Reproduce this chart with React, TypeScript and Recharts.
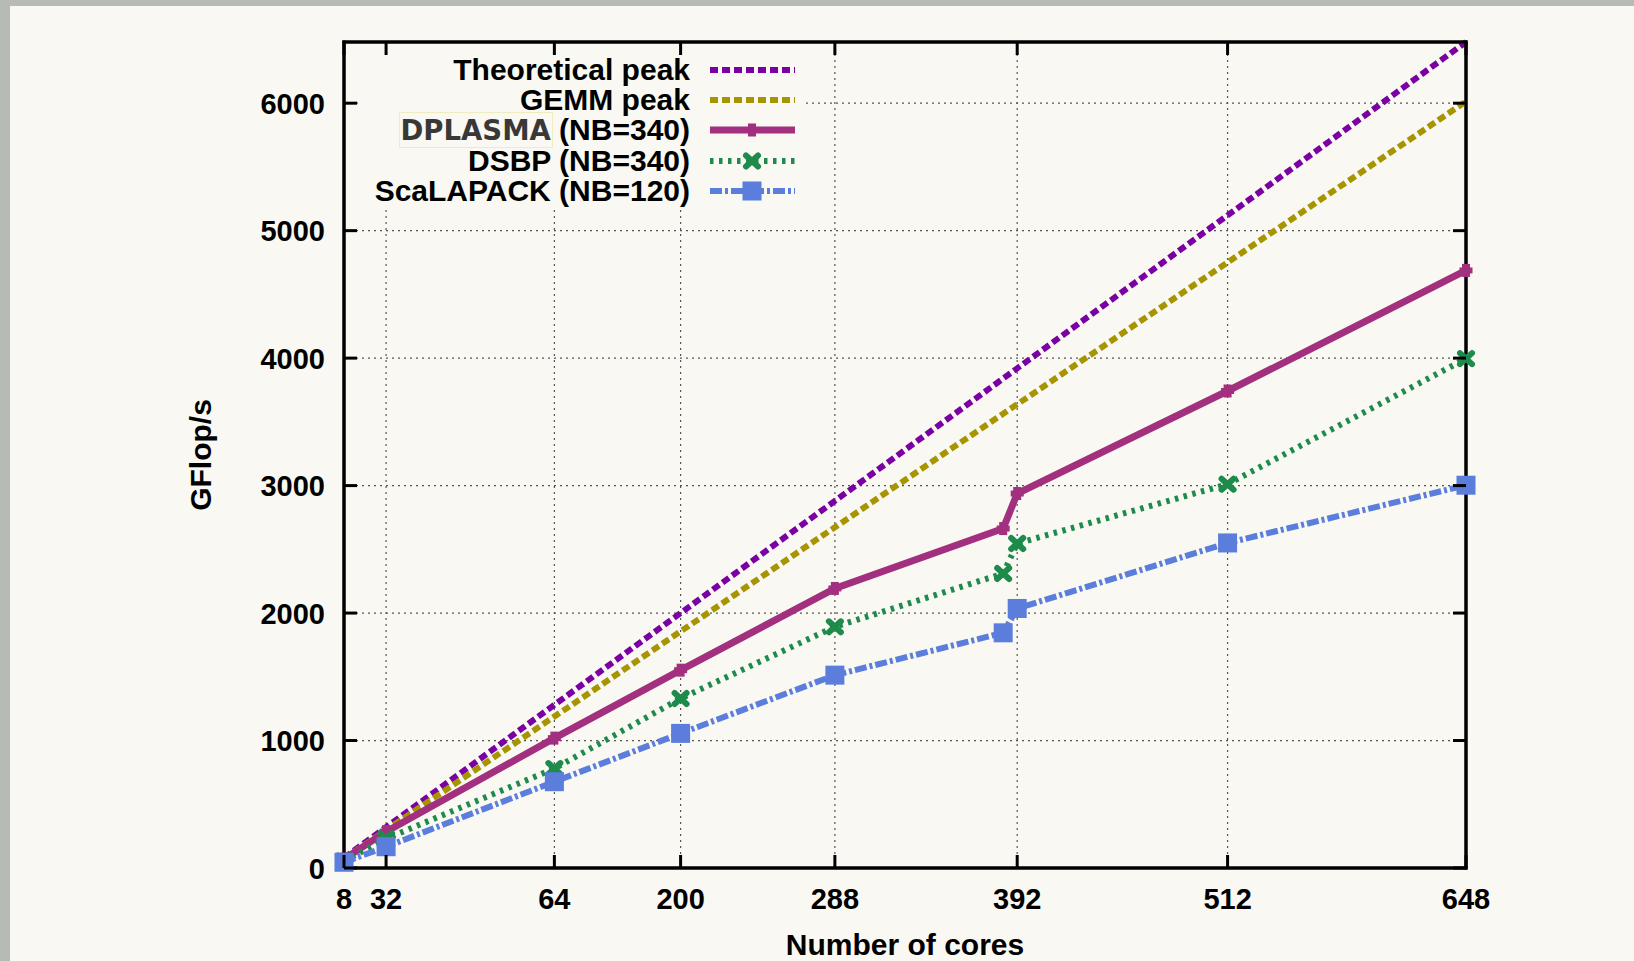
import { LineChart, Line, XAxis, YAxis, CartesianGrid, ReferenceArea } from 'recharts'

// number of cores on the x axis (384 and 392 are two separate runs)
const cores = [8, 32, 128, 200, 288, 384, 392, 512, 648]
const theoreticalPeak = [80, 320, 1280, 2000, 2880, 3840, 3920, 5120, 6480]
const gemmPeak = [74, 297, 1188, 1856, 2673, 3564, 3638, 4751, 6013]
const dplasma = [70, 285, 1019, 1552, 2193, 2663, 2938, 3742, 4688]
const dsbp = [55, 230, 780, 1330, 1892, 2310, 2546, 3011, 3996]
const scalapack = [45, 167, 677, 1056, 1513, 1845, 2036, 2550, 3003]

const xTicks = [8, 32, 128, 200, 288, 392, 512, 648]
const xTickLabels = ['8', '32', '64', '200', '288', '392', '512', '648']
const yTicks = [0, 1000, 2000, 3000, 4000, 5000, 6000]

const data = cores.map((c, i) => ({
  cores: c,
  theoretical: theoreticalPeak[i],
  gemm: gemmPeak[i],
  dplasma: dplasma[i],
  dsbp: dsbp[i],
  scalapack: scalapack[i],
}))

const FONT = '"Liberation Sans", Arial, Helvetica, sans-serif'
const BG = '#f9f8f2'
const C = {
  theo: '#7b00a3',
  gemm: '#a69400',
  dplasma: '#a3307f',
  dsbp: '#1e8b4d',
  scal: '#5b7ddb',
}

const TICK = 13

const PlusDot = ({ cx, cy }: any) => (
  <g>
    <rect x={cx - 4} y={cy - 6.5} width={8} height={13} fill={C.dplasma} />
    <rect x={cx - 6.5} y={cy - 3} width={13} height={6} fill={C.dplasma} />
  </g>
)
const CrossDot = ({ cx, cy }: any) => (
  <g stroke={C.dsbp} strokeWidth={6} strokeLinecap="round">
    <line x1={cx - 6} y1={cy - 5.5} x2={cx + 6} y2={cy + 5.5} />
    <line x1={cx - 6} y1={cy + 5.5} x2={cx + 6} y2={cy - 5.5} />
  </g>
)
const SquareDot = ({ cx, cy }: any) => (
  <rect x={cx - 9.5} y={cy - 9.5} width={19} height={19} fill={C.scal} />
)

const labelStyle = { fontFamily: FONT, fontWeight: 700, fontSize: 29, fill: '#000' }

const BottomTick = ({ x, y, payload }: any) => {
  const i = xTicks.indexOf(payload.value)
  return (
    <g>
      <line x1={x} y1={y} x2={x} y2={y - TICK} stroke="#000" strokeWidth={3} />
      <text x={x} y={y + 41} textAnchor="middle" {...labelStyle}>{xTickLabels[i]}</text>
    </g>
  )
}
const TopTick = ({ x, y }: any) => (
  <line x1={x} y1={y} x2={x} y2={y + TICK} stroke="#000" strokeWidth={3} />
)
const LeftTick = ({ x, y, payload }: any) => (
  <g>
    <line x1={x} y1={y} x2={x + TICK} y2={y} stroke="#000" strokeWidth={3} />
    <text x={x - 19} y={y + 10.5} textAnchor="end" {...labelStyle}>{payload.value}</text>
  </g>
)
const RightTick = ({ x, y }: any) => (
  <line x1={x} y1={y} x2={x - TICK} y2={y} stroke="#000" strokeWidth={3} />
)

const frame = { stroke: '#000', strokeWidth: 3, strokeLinecap: 'square' as const }

const legendRows = [
  { label: 'Theoretical peak', color: C.theo, dash: '8 4', width: 6, Dot: null },
  { label: 'GEMM peak', color: C.gemm, dash: '8 4', width: 6, Dot: null },
  { label: 'DPLASMA', suffix: ' (NB=340)', color: C.dplasma, dash: undefined, width: 7, Dot: PlusDot },
  { label: 'DSBP (NB=340)', color: C.dsbp, dash: '3.5 5.5', width: 6, Dot: CrossDot },
  { label: 'ScaLAPACK (NB=120)', color: C.scal, dash: '12 3 3 3', width: 6, Dot: SquareDot },
]

function Key() {
  return (
    <div style={{ position: 'absolute', left: 358, top: 55, width: 444, height: 152, background: BG }}>
      {legendRows.map((r) => (
        <div key={r.label} style={{ height: 30.2, display: 'flex', alignItems: 'center' }}>
          <div style={{ width: 332, textAlign: 'right', fontFamily: FONT, fontWeight: 700, fontSize: 30, lineHeight: '30px', color: '#000', whiteSpace: 'nowrap' }}>
            {r.suffix ? (
              <>
                <span style={{ fontFamily: '"DejaVu Sans", sans-serif', fontSize: 27.5, color: '#383838', outline: '1px solid #efecc0', outlineOffset: 1 }}>{r.label}</span>
                <span>{r.suffix}</span>
              </>
            ) : r.label}
          </div>
          <svg width={87} height={26} style={{ marginLeft: 20 }}>
            <line x1={0} y1={13} x2={85} y2={13} stroke={r.color} strokeWidth={r.width} strokeDasharray={r.dash} />
            {r.Dot && <r.Dot cx={42} cy={13} />}
          </svg>
        </div>
      ))}
    </div>
  )
}

export default function App() {
  return (
    <div style={{ position: 'fixed', left: 0, top: 0, width: 1634, height: 961, background: '#b7bbb6', overflow: 'hidden' }}>
      <div style={{ position: 'absolute', left: 10, top: 6, right: 0, bottom: 0, background: BG }} />
      <div style={{ position: 'absolute', left: 0, top: 0 }}>
        <LineChart width={1634} height={961} data={data} margin={{ top: 41, right: 167, bottom: 0, left: 56 }}>
          <CartesianGrid stroke="#555" strokeWidth={1.2} strokeDasharray="2 4" />
          <XAxis
            dataKey="cores"
            type="number"
            domain={[8, 648]}
            ticks={xTicks}
            interval={0}
            height={93}
            tickSize={0}
            tickMargin={0}
            tickLine={false}
            axisLine={frame}
            tick={BottomTick}
            label={{ value: 'Number of cores', position: 'insideBottom', offset: 6, ...labelStyle, fontSize: 30 }}
          />
          <XAxis
            xAxisId="top"
            orientation="top"
            dataKey="cores"
            type="number"
            domain={[8, 648]}
            ticks={xTicks}
            interval={0}
            height={1}
            tickSize={0}
            tickMargin={0}
            tickLine={false}
            axisLine={frame}
            tick={TopTick}
          />
          <YAxis
            type="number"
            domain={[0, 6480]}
            ticks={yTicks}
            interval={0}
            width={288}
            tickSize={0}
            tickMargin={0}
            tickLine={false}
            axisLine={frame}
            tick={LeftTick}
            label={{ value: 'GFlop/s', angle: -90, position: 'center', ...labelStyle, fontSize: 30 }}
          />
          <YAxis
            yAxisId="right"
            orientation="right"
            type="number"
            domain={[0, 6480]}
            ticks={yTicks}
            interval={0}
            width={1}
            tickSize={0}
            tickMargin={0}
            tickLine={false}
            axisLine={frame}
            tick={RightTick}
          />
          <ReferenceArea x1={8} x2={648} y1={0} y2={6480} fill="none" stroke="#000" strokeWidth={3} />
          {/* invisible series so the mirrored axes get a scale */}
          <Line xAxisId="top" yAxisId="right" dataKey="theoretical" stroke="none" dot={false} activeDot={false} isAnimationActive={false} />
          <Line dataKey="theoretical" stroke={C.theo} strokeWidth={6} strokeDasharray="8 4" dot={false} activeDot={false} isAnimationActive={false} />
          <Line dataKey="gemm" stroke={C.gemm} strokeWidth={6} strokeDasharray="8 4" dot={false} activeDot={false} isAnimationActive={false} />
          <Line dataKey="dplasma" stroke={C.dplasma} strokeWidth={7} dot={(p: any) => <PlusDot key={p.index} cx={p.cx} cy={p.cy} />} activeDot={false} isAnimationActive={false} />
          <Line dataKey="dsbp" stroke={C.dsbp} strokeWidth={6} strokeDasharray="3.5 5.5" dot={(p: any) => <CrossDot key={p.index} cx={p.cx} cy={p.cy} />} activeDot={false} isAnimationActive={false} />
          <Line dataKey="scalapack" stroke={C.scal} strokeWidth={6} strokeDasharray="12 3 3 3" dot={(p: any) => <SquareDot key={p.index} cx={p.cx} cy={p.cy} />} activeDot={false} isAnimationActive={false} />
        </LineChart>
      </div>
      <Key />
    </div>
  )
}
